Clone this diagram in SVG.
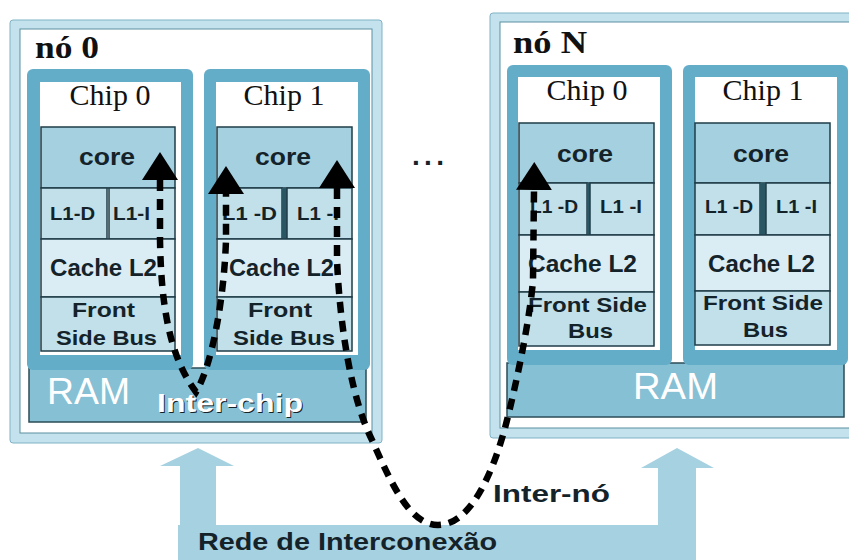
<svg xmlns="http://www.w3.org/2000/svg" width="849" height="560" viewBox="0 0 849 560">
  <style>
    .frame { fill: #c4e2ed; stroke: #7fb3c5; stroke-width: 1; }
    .inner { fill: #ffffff; stroke: #5a8fa2; stroke-width: 1; }
    .chip { fill: #63adc9; }
    .chipin { fill: #ffffff; }
    .core { fill: #a5d0e0; stroke: #1f3d48; stroke-width: 1.5; }
    .l1 { fill: #c1e0ea; stroke: #1f3d48; stroke-width: 1.5; }
    .l2 { fill: #dbedf4; stroke: #1f3d48; stroke-width: 1.5; }
    .fsb { fill: #c1e0ea; stroke: #1f3d48; stroke-width: 1.5; }
    .sep { fill: #2a5563; }
    .ram { fill: #86c0d5; stroke: #2b4c57; stroke-width: 1.5; }
    .net { fill: #a6d1e1; }
    .title { font-family: "Liberation Serif", serif; font-weight: bold; font-size: 31px; fill: #111; }
    .chipname { font-family: "Liberation Serif", serif; font-size: 30px; fill: #111; text-anchor: middle; }
    .lbl { font-family: "Liberation Sans", Arial, sans-serif; font-weight: bold; fill: #14232a; }
    .ramtxt { font-family: "Liberation Sans", Arial, sans-serif; font-size: 37px; fill: #ffffff; }
    .link { fill: none; stroke: #000; stroke-width: 6.5; stroke-dasharray: 11 8; }
  </style>
  <defs>
    <marker id="head" viewBox="0 -18 28 36" markerUnits="userSpaceOnUse" markerWidth="28" markerHeight="36" refX="0" refY="0" orient="auto-start-reverse">
      <path d="M0,-18 L28,0 L0,18 Z" fill="#000"/>
    </marker>
  </defs>

  <!-- interconnection network: bar with two arrows up to the nodes -->
  <g id="rede">
    <path class="net" d="M178,560 L178,525 L180,525 L180,466 L160,466 L198,448 L234,466 L216,466 L216,525 L658,525 L658,468 L641,468 L677,448 L714,468 L696,468 L696,560 Z"/>
    <text class="lbl" x="198" y="550" font-size="24" textLength="299" lengthAdjust="spacingAndGlyphs">Rede de Interconexão</text>
  </g>

  <!-- node 0 -->
  <g id="no0">
    <rect class="frame" x="10" y="20" width="372" height="423" rx="3"/>
    <rect class="inner" x="20" y="29" width="352" height="404"/>
    <text class="title" x="35" y="58" textLength="64" lengthAdjust="spacingAndGlyphs">nó 0</text>
    <rect class="ram" x="29" y="368" width="337" height="54"/>
    <text class="ramtxt" x="47" y="404" textLength="83" lengthAdjust="spacingAndGlyphs">RAM</text>
    <text class="lbl" x="158" y="413" font-size="25" fill="#1d3640" textLength="146" lengthAdjust="spacingAndGlyphs">Inter-chip</text>
    <text class="lbl" x="157" y="412" font-size="25" style="fill:#ffffff" textLength="146" lengthAdjust="spacingAndGlyphs">Inter-chip</text>

    <g id="no0-chip0">
      <rect class="chip" x="27" y="69" width="166" height="301" rx="6"/>
      <rect class="chipin" x="40" y="82" width="141" height="273"/>
      <text class="chipname" x="110" y="105">Chip 0</text>
      <rect class="core" x="41" y="127" width="134" height="61"/>
      <text class="lbl" x="79" y="165" font-size="24" textLength="56" lengthAdjust="spacingAndGlyphs">core</text>
      <rect class="l1" x="41" y="188" width="66" height="51"/>
      <rect class="l1" x="109" y="188" width="66" height="51"/>
      <text class="lbl" x="50" y="220" font-size="18" textLength="45" lengthAdjust="spacingAndGlyphs">L1-D</text>
      <text class="lbl" x="113" y="220" font-size="18" textLength="37" lengthAdjust="spacingAndGlyphs">L1-I</text>
      <rect class="l2" x="41" y="239" width="134" height="58"/>
      <text class="lbl" x="50" y="276" font-size="23" textLength="107" lengthAdjust="spacingAndGlyphs">Cache L2</text>
      <rect class="fsb" x="41" y="297" width="134" height="54"/>
      <text class="lbl" x="72" y="317" font-size="21" textLength="63" lengthAdjust="spacingAndGlyphs">Front</text>
      <text class="lbl" x="56" y="345" font-size="21" textLength="101" lengthAdjust="spacingAndGlyphs">Side Bus</text>
    </g>

    <g id="no0-chip1">
      <rect class="chip" x="204" y="69" width="166" height="301" rx="6"/>
      <rect class="chipin" x="216" y="82" width="142" height="273"/>
      <text class="chipname" x="284" y="105">Chip 1</text>
      <rect class="core" x="217" y="127" width="135" height="61"/>
      <text class="lbl" x="255" y="165" font-size="24" textLength="56" lengthAdjust="spacingAndGlyphs">core</text>
      <rect class="l1" x="217" y="188" width="65" height="51"/>
      <rect class="sep" x="282" y="188" width="5" height="51"/>
      <rect class="l1" x="287" y="188" width="65" height="51"/>
      <text class="lbl" x="222" y="220" font-size="18" textLength="55" lengthAdjust="spacingAndGlyphs">L1 -D</text>
      <text class="lbl" x="297" y="220" font-size="18" textLength="42" lengthAdjust="spacingAndGlyphs">L1 -I</text>
      <rect class="l2" x="217" y="239" width="135" height="58"/>
      <text class="lbl" x="229" y="276" font-size="23" textLength="105" lengthAdjust="spacingAndGlyphs">Cache L2</text>
      <rect class="fsb" x="217" y="297" width="135" height="54"/>
      <text class="lbl" x="248" y="317" font-size="21" textLength="64" lengthAdjust="spacingAndGlyphs">Front</text>
      <text class="lbl" x="233" y="345" font-size="21" textLength="102" lengthAdjust="spacingAndGlyphs">Side Bus</text>
    </g>
  </g>

  <text id="reticencias" class="lbl" x="412" y="165" font-size="28" textLength="32" lengthAdjust="spacing">...</text>

  <!-- node N -->
  <g id="noN">
    <rect class="frame" x="490" y="13" width="372" height="425" rx="3"/>
    <rect class="inner" x="500" y="22" width="362" height="406"/>
    <text class="title" x="513" y="53" textLength="74" lengthAdjust="spacingAndGlyphs">nó N</text>
    <rect class="ram" x="507" y="363" width="337" height="54"/>
    <text class="ramtxt" x="633" y="399" textLength="85" lengthAdjust="spacingAndGlyphs">RAM</text>

    <g id="noN-chip0">
      <rect class="chip" x="507" y="65" width="165" height="300" rx="6"/>
      <rect class="chipin" x="518" y="77" width="142" height="273"/>
      <text class="chipname" x="587" y="100">Chip 0</text>
      <rect class="core" x="519" y="123" width="135" height="60"/>
      <text class="lbl" x="557" y="162" font-size="24" textLength="56" lengthAdjust="spacingAndGlyphs">core</text>
      <rect class="l1" x="519" y="183" width="68" height="52"/>
      <rect class="sep" x="587" y="183" width="3" height="52"/>
      <rect class="l1" x="590" y="183" width="64" height="52"/>
      <text class="lbl" x="530" y="213" font-size="18" textLength="48" lengthAdjust="spacingAndGlyphs">L1 -D</text>
      <text class="lbl" x="600" y="213" font-size="18" textLength="42" lengthAdjust="spacingAndGlyphs">L1 -I</text>
      <rect class="l2" x="519" y="235" width="135" height="57"/>
      <text class="lbl" x="528" y="272" font-size="23" textLength="109" lengthAdjust="spacingAndGlyphs">Cache L2</text>
      <rect class="fsb" x="519" y="292" width="135" height="54"/>
      <text class="lbl" x="528" y="312" font-size="21" textLength="119" lengthAdjust="spacingAndGlyphs">Front Side</text>
      <text class="lbl" x="568" y="338" font-size="21" textLength="45" lengthAdjust="spacingAndGlyphs">Bus</text>
    </g>

    <g id="noN-chip1">
      <rect class="chip" x="683" y="65" width="165" height="300" rx="6"/>
      <rect class="chipin" x="695" y="77" width="142" height="273"/>
      <text class="chipname" x="763" y="100">Chip 1</text>
      <rect class="core" x="695" y="123" width="135" height="60"/>
      <text class="lbl" x="733" y="162" font-size="24" textLength="56" lengthAdjust="spacingAndGlyphs">core</text>
      <rect class="l1" x="695" y="183" width="65" height="52"/>
      <rect class="sep" x="760" y="183" width="6" height="52"/>
      <rect class="l1" x="766" y="183" width="64" height="52"/>
      <text class="lbl" x="705" y="213" font-size="18" textLength="48" lengthAdjust="spacingAndGlyphs">L1 -D</text>
      <text class="lbl" x="776" y="213" font-size="18" textLength="41" lengthAdjust="spacingAndGlyphs">L1 -I</text>
      <rect class="l2" x="695" y="235" width="135" height="56"/>
      <text class="lbl" x="708" y="272" font-size="23" textLength="107" lengthAdjust="spacingAndGlyphs">Cache L2</text>
      <rect class="fsb" x="695" y="291" width="135" height="54"/>
      <text class="lbl" x="703" y="310" font-size="21" textLength="120" lengthAdjust="spacingAndGlyphs">Front Side</text>
      <text class="lbl" x="743" y="337" font-size="21" textLength="45" lengthAdjust="spacingAndGlyphs">Bus</text>
    </g>
  </g>

  <!-- communication paths -->
  <g id="conexoes">
    <path class="link" marker-start="url(#head)" marker-end="url(#head)" d="M160,180 L160,240 C161,300 168,355 196,392 C212,365 224,300 226,240 L226,194"/>
    <path class="link" marker-start="url(#head)" marker-end="url(#head)" d="M337,188 L337,260 C340,330 352,400 372,440 C392,485 410,525 438,525 C470,525 492,475 505,428 C515,390 530,320 533,280 L534,190"/>
    <text class="lbl" x="493" y="502" font-size="23" textLength="117" lengthAdjust="spacingAndGlyphs">Inter-nó</text>
  </g>
</svg>
